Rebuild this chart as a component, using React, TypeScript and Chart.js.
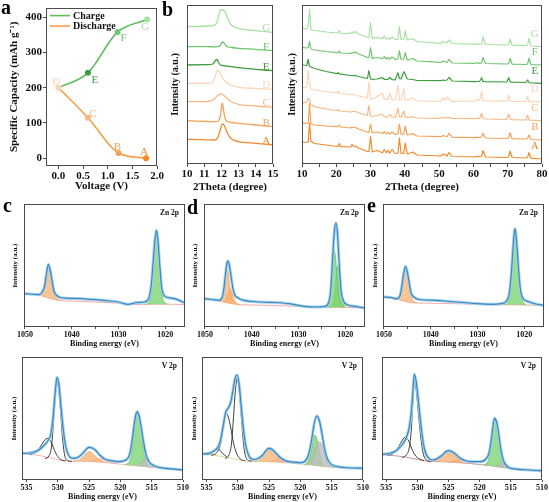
import React, { useEffect, useRef } from "react";
import { Chart, registerables } from "chart.js";

Chart.register(...registerables);

const SERIF = "'Liberation Serif', 'Times New Roman', serif";

/* ---------------- (a) capacity vs voltage ---------------- */
const chargeVoltage = [0, 0.6, 1.2, 1.8];
const chargeCapacity = [200, 242, 358, 393];
const chargePointNames = ["", "E", "F", "G"];
const dischargeVoltage = [0, 0.6, 1.22, 1.78];
const dischargeCapacity = [200, 115, 15, 0];
const dischargePointNames = ["D", "C", "B", "A"];
const voltageTicks = [0, 0.5, 1.0, 1.5, 2.0];
const capacityTicks = [0, 100, 200, 300, 400];

/* ---------------- (b) XRD, stacked (values include stacking offset) ---------------- */
const sampleNames = ["A", "B", "C", "D", "E", "F", "G"];
const thetaZoomTicks = [10, 11, 12, 13, 14, 15];
const thetaWideTicks = [10, 15, 20, 25, 30, 35, 40, 45, 50, 55, 60, 65, 70, 75, 80];
const thetaWideLabels = [10, 20, 30, 40, 50, 60, 70, 80];

const twoThetaZoom = [10, 11.2, 11.5, 11.65, 11.75, 11.85, 11.95, 12.05, 12.15, 12.25, 12.4, 12.6, 13, 14, 15];
const zoomA = [25.7, 25.2, 25, 25.2, 26.5, 30, 36, 41, 40, 36, 30, 26, 23.3, 21.7, 20];
const zoomB = [44.3, 43.5, 43.3, 43.3, 43.5, 44.5, 50, 62, 52, 45, 43.2, 42.5, 41.7, 40, 38.3];
const zoomC = [63.3, 63.5, 65, 67, 69, 70.5, 71, 70.5, 69.5, 68, 65.5, 63, 60.7, 59, 57.7];
const zoomD = [81.7, 81.7, 83, 89, 94.5, 94, 91, 88, 85, 83, 81, 79.5, 77.7, 76.7, 75.7];
const zoomE = [100, 100.3, 101, 104.5, 105.5, 102, 100, 99.5, 99.3, 99, 98.7, 98.3, 97.3, 95.7, 94.3];
const zoomF = [118.3, 118.3, 118.2, 118.2, 118.3, 118.7, 120, 123, 122, 119.5, 118, 117.5, 116.7, 115.7, 114.3];
const zoomG = [138.3, 139, 139.5, 140.5, 143, 150, 155, 155, 154.5, 152, 145, 139.5, 136.7, 134.3, 132.7];

const twoThetaWide = [10, 11.4, 11.8, 12.2, 12.6, 13.7, 17, 20.3, 20.6, 20.9, 21.3, 24.2, 24.6, 25.0, 25.6, 26.5, 29.1, 29.5, 30.0, 30.5, 31.8, 33.5, 34.0, 34.6, 35.0, 35.6, 36.3, 37.2, 38.0, 38.4, 38.9, 39.7, 40.1, 40.7, 42.4, 43.5, 50.5, 51.2, 51.6, 52.3, 52.9, 53.8, 60.5, 61.0, 61.8, 62.4, 62.8, 63.5, 69.7, 70.3, 70.7, 71.3, 75.3, 75.8, 76.2, 76.8, 80];
const wideA = [21, 20.5, 21, 40, 21.5, 19.5, 18, 16.5, 17, 19.5, 16.3, 16, 18.5, 16.5, 17, 15, 11.5, 11.5, 26.5, 11, 12.5, 10.3, 13.5, 10.3, 12.5, 10, 13.5, 9.5, 10, 25, 9.5, 9.8, 20, 9, 11, 8, 7, 9, 8.5, 7, 10.5, 6.5, 6, 6.8, 6, 7, 12.5, 6, 5.5, 6.5, 12, 5.5, 5, 5.8, 10.5, 4.8, 4];
const wideB = [40.3, 39.5, 40, 59.5, 39, 38, 37, 36.3, 36.5, 38, 36, 35, 36, 35.5, 35.5, 34, 31, 30.5, 39, 30, 31, 29.5, 31.5, 29.3, 30.5, 29, 31, 28.5, 29, 39, 28.5, 29, 37, 28, 29.5, 27, 26.3, 27.5, 27, 26.3, 29.7, 25.8, 25.3, 25.8, 25.3, 26, 29.7, 25, 24.5, 25.5, 30.3, 24.3, 24, 24.8, 28, 23.5, 23];
const wideC = [59.7, 61, 65, 63, 58.5, 56.3, 54, 52.5, 53.5, 52.3, 52, 51, 51.5, 51.5, 51.5, 50, 47.5, 57.7, 47, 46.5, 47.5, 49, 46.3, 46, 46, 48.7, 46, 45.7, 54.7, 46, 45.8, 52, 46, 45.5, 46.3, 45, 44.7, 45.7, 45, 45.7, 45.5, 44.5, 44.3, 45, 44.3, 49.7, 44.5, 44, 43.5, 49, 43.8, 43.3, 43, 48, 43, 42.8, 42.3];
const wideD = [74.7, 76, 92, 80, 74, 73, 71.5, 70, 72.3, 69.7, 69.5, 68.5, 68.7, 68.3, 68, 67, 65, 80.3, 64, 63.7, 66.3, 69.7, 63.5, 63.3, 63.3, 69.7, 63.2, 63, 78, 63, 63, 74.7, 63, 62.5, 65.3, 62, 61.5, 65.3, 62.5, 66.3, 64, 61.5, 62, 63.7, 62.5, 71.3, 62.3, 62, 61.8, 68, 62, 61.5, 61.5, 67, 61.5, 61.3, 61.3];
const wideE = [98, 97.5, 103.7, 96.5, 96, 94.5, 91.5, 89.3, 90.5, 89, 88.8, 87.5, 87.5, 87.3, 87.5, 86.5, 84.5, 92.3, 84, 83.7, 84, 85.3, 83.7, 83.5, 83.5, 85.5, 83.3, 83.2, 90.3, 84.5, 84, 91.3, 89, 84, 83.5, 82.5, 82.3, 83, 82.5, 83, 85.7, 82, 81.3, 81.5, 81.5, 85.3, 81.5, 81.3, 81, 85.3, 81.2, 80.8, 80.5, 83, 80.5, 80.2, 79.7];
const wideF = [115.7, 115, 115.5, 121.3, 114, 113, 111.5, 110.3, 110.5, 112, 110, 109.5, 110.5, 110, 111, 109, 105.5, 105.3, 115.3, 104.7, 105.5, 104.3, 106.5, 104, 105.5, 103.8, 106, 103.5, 104, 112.3, 103.5, 104, 110.3, 103, 104.5, 102, 100.7, 102, 101.5, 100.5, 103.7, 100, 99.7, 100.3, 99.7, 100, 105.7, 99.5, 99, 99.5, 104.7, 98.8, 98.5, 99, 104.7, 98.3, 98];
const wideG = [134.7, 134, 136, 153.7, 133, 132.5, 131, 130, 130.5, 132.3, 129.7, 129.5, 131.3, 130, 131.5, 129, 125.5, 125.3, 140.3, 124.7, 125.5, 124.3, 127, 124, 125, 123.8, 126, 123.5, 124, 136.3, 123.5, 124, 132, 123, 124.3, 121.5, 119.7, 121.5, 121, 120, 123, 119.5, 118.7, 119.3, 118.7, 119, 126.3, 118.5, 118, 118.5, 124, 117.8, 117.3, 118, 124.7, 117, 116.3];

/* ---------------- (c-e) XPS, [binding energy, intensity] ---------------- */
const znTicks = [1050, 1045, 1040, 1035, 1030, 1025, 1020];
const znLabels = [1050, 1040, 1030, 1020];
const vTicks = [535, 530, 525, 520, 515, 510];

const cZnExp = [[1050.2, 33.3], [1049, 33], [1048, 32.7], [1047, 32.3], [1046.3, 35], [1045.8, 41], [1045.4, 53], [1045.0, 62.7], [1044.6, 57], [1044.2, 46], [1043.8, 36], [1043.2, 31.5], [1042.5, 29.5], [1041, 28.8], [1038, 28.3], [1035, 27.3], [1032, 26], [1030, 25], [1028, 22.7], [1026, 24.5], [1024.5, 25], [1023.6, 28], [1023.0, 42], [1022.6, 65], [1022.2, 88], [1021.9, 96.7], [1021.6, 88], [1021.2, 62], [1020.8, 40], [1020.3, 31.7], [1019.5, 29.5], [1018, 28.3], [1016.5, 25.5], [1015.8, 24]];
const cZnBg = [[1050.2, 33.3], [1047.3, 32.3], [1045, 29], [1043, 26.8], [1040, 26], [1035, 25], [1030, 23.8], [1027, 22.5], [1023, 22.8], [1019, 22.8], [1015.8, 22.5]];
const cZnOrange = [[1048.0, 32.6], [1047.0, 33.5], [1046.3, 36], [1045.8, 42], [1045.4, 53], [1045.0, 61.5], [1044.6, 55], [1044.2, 44], [1043.8, 34], [1043.3, 29], [1042.6, 27]];
const cZnGreen = [[1024.2, 22.8], [1023.4, 25], [1023.0, 38], [1022.6, 62], [1022.2, 87], [1021.9, 95.5], [1021.6, 87], [1021.2, 60], [1020.8, 37], [1020.4, 26], [1019.6, 23]];

const dZnExp = [[1050.2, 28.3], [1048.5, 27.5], [1047, 26.7], [1046.3, 30], [1045.9, 40], [1045.5, 57], [1045.2, 66], [1044.8, 62], [1044.4, 50], [1044.0, 38], [1043.5, 31], [1043, 29.3], [1042, 27], [1038, 25], [1035, 24.5], [1032, 23.3], [1029, 20.7], [1026, 20], [1024.5, 20.5], [1023.6, 24], [1023.1, 38], [1022.7, 70], [1022.3, 98], [1022.0, 104], [1021.7, 95], [1021.3, 62], [1020.9, 36], [1020.4, 26], [1019.5, 22], [1018, 20.7], [1016.5, 19.5], [1015.8, 19]];
const dZnBg = [[1050.2, 28.3], [1047.3, 26.5], [1045, 24], [1043, 22.5], [1040, 22], [1035, 21.5], [1030, 20.7], [1026, 19.7], [1022, 19.7], [1018, 19.3], [1015.8, 19]];
const dZnOrange1 = [[1047.0, 26.5], [1046.4, 29], [1046.0, 37], [1045.6, 50], [1045.3, 58], [1045.0, 53], [1044.7, 40], [1044.3, 29], [1043.8, 24.5], [1043.2, 22.8]];
const dZnOrange2 = [[1046.0, 25], [1045.5, 28], [1045.0, 34], [1044.6, 38], [1044.2, 34], [1043.8, 28], [1043.3, 24], [1042.6, 22.5]];
const dZnGreen1 = [[1024.3, 20], [1023.6, 23], [1023.2, 35], [1022.9, 55], [1022.6, 72], [1022.4, 76.7], [1022.1, 70], [1021.8, 52], [1021.4, 32], [1021.0, 23], [1020.3, 20]];
const dZnGreen2 = [[1023.2, 20], [1022.6, 24], [1022.2, 37], [1021.9, 52], [1021.6, 60.7], [1021.3, 52], [1021.0, 36], [1020.6, 25], [1020.0, 20.5]];

const eZnExp = [[1050.2, 30], [1048.5, 29.5], [1047.3, 28.3], [1046.6, 31], [1046.2, 40], [1045.8, 53], [1045.4, 60.7], [1045.0, 55], [1044.6, 44], [1044.2, 34], [1043.6, 30], [1042.5, 27.5], [1039, 26.7], [1036, 25.5], [1033, 24.5], [1030, 23.3], [1027, 22.7], [1025, 23.3], [1023.8, 26], [1023.2, 34], [1022.8, 52], [1022.4, 80], [1022.0, 98.3], [1021.6, 82], [1021.2, 55], [1020.8, 36], [1020.2, 28], [1019.2, 25.5], [1017.5, 23], [1015.8, 21.7]];
const eZnBg = [[1050.2, 30], [1047.5, 28], [1045, 25], [1043, 24], [1040, 23.8], [1035, 23.3], [1030, 22.8], [1025, 22.3], [1020, 22], [1015.8, 21.5]];
const eZnOrange = [[1047.8, 28.2], [1047.0, 29], [1046.5, 32], [1046.1, 39], [1045.8, 50], [1045.4, 59], [1045.0, 53], [1044.6, 41], [1044.2, 31], [1043.7, 26], [1043, 24]];
const eZnGreen = [[1024.2, 22.4], [1023.4, 26], [1023.0, 37], [1022.6, 62], [1022.3, 86], [1022.0, 97], [1021.7, 86], [1021.3, 60], [1020.9, 37], [1020.5, 27], [1019.7, 22.5]];

const cVExp = [[535.7, 26.7], [534.5, 27], [533.5, 28.5], [532.8, 31], [532.2, 34.5], [531.6, 39], [531.1, 46], [530.7, 65], [530.4, 88], [530.1, 102.7], [529.8, 95], [529.5, 75], [529.1, 50], [528.7, 33], [528.2, 24], [527.5, 21.7], [526.8, 22.5], [526, 26.7], [525.4, 31], [525, 32.7], [524.5, 32], [524, 30], [523.3, 25], [522.5, 21], [521.5, 19.3], [520.3, 18.3], [519.3, 19.5], [518.6, 24], [518.2, 36], [517.8, 55], [517.5, 66], [517.3, 68.3], [517, 64], [516.7, 54], [516.3, 38], [515.9, 25], [515.4, 18], [514.7, 14.5], [513.5, 12.3], [512, 11.2], [510, 10]];
const cVBg = [[535.7, 26.5], [534, 25.5], [532.5, 24], [531, 22], [529.5, 19.5], [528.5, 18.8], [526, 18.7], [524, 18.3], [522, 17.3], [520, 15.8], [518, 14.5], [516, 13.3], [514, 12], [512, 11], [510, 10]];
const cVBlack1 = [[532.0, 21.5], [531.4, 24], [531.0, 33], [530.7, 55], [530.4, 82], [530.1, 98.3], [529.8, 88], [529.5, 65], [529.2, 40], [528.9, 25], [528.4, 19.5], [527.8, 18.6]];
const cVBlack2 = [[534.5, 25.5], [533.7, 27], [533.0, 31], [532.4, 37], [531.7, 41.7], [531.1, 38.5], [530.6, 31], [530.1, 24.5], [529.5, 20.5], [528.8, 19.2]];
const cVOrange = [[527.5, 18.8], [526.6, 20], [526.0, 23], [525.5, 26.5], [525.0, 28.3], [524.5, 27], [524.0, 24], [523.4, 20.5], [522.8, 17.8]];
const cVPink = [[525.0, 18.6], [524.2, 19.5], [523.4, 21], [522.8, 21.2], [522.2, 20], [521.5, 18], [520.8, 16.3]];
const cVGreen = [[519.2, 15.4], [518.5, 19], [518.1, 30], [517.8, 48], [517.5, 62], [517.3, 66.7], [517.0, 62], [516.7, 50], [516.4, 33], [516.0, 20], [515.5, 13.2]];
const cVGray = [[517.2, 14.3], [516.6, 18], [516.1, 21.7], [515.6, 20], [515.1, 16], [514.5, 12.5]];

const dVExp = [[535.7, 26], [534.5, 26.7], [533.8, 29], [533.3, 31.7], [532.8, 38], [532.3, 55], [531.9, 68], [531.5, 72], [531.1, 78], [530.7, 92], [530.4, 102], [530.1, 105], [529.8, 97], [529.5, 78], [529.1, 52], [528.7, 34], [528.2, 24], [527.5, 20.5], [526.8, 21.5], [526, 25], [525.4, 30], [525, 31.7], [524.5, 30.5], [524, 27.5], [523.3, 23], [522.5, 19.5], [521, 17.8], [520, 17.3], [519.2, 19], [518.7, 25], [518.2, 40], [517.8, 56], [517.4, 64], [517.0, 60], [516.6, 48], [516.2, 33.3], [515.8, 23], [515.3, 17], [514.5, 14], [513, 12.5], [510, 11.7]];
const dVBg = [[535.7, 26], [534, 25], [532.5, 23.5], [531, 21.5], [529.5, 19.8], [528, 18.8], [526, 18.5], [524, 18], [522, 17], [520, 16], [518, 14.8], [516, 13.3], [514, 12.2], [512, 11.8], [510, 11.7]];
const dVBlack1 = [[532.0, 21.5], [531.4, 25], [531.0, 36], [530.7, 60], [530.4, 87], [530.1, 101.7], [529.8, 92], [529.5, 70], [529.2, 45], [528.9, 28], [528.4, 20], [527.8, 18.8]];
const dVBlack2 = [[534.2, 24.8], [533.4, 27], [532.8, 35], [532.4, 50], [532.1, 62], [531.8, 66.7], [531.5, 63], [531.1, 52], [530.7, 38], [530.2, 27], [529.6, 21], [528.9, 19.3]];
const dVBlack3 = [[534.8, 25.5], [534.2, 27], [533.7, 30], [533.3, 31.7], [532.9, 30], [532.4, 26.5], [531.8, 23.5]];
const dVOrange = [[527.5, 18.7], [526.6, 20], [526.0, 23.5], [525.5, 28], [525.0, 30], [524.5, 28.5], [524.0, 25], [523.4, 21], [522.8, 17.5]];
const dVPink = [[525.0, 18.4], [524.2, 19.5], [523.4, 21.5], [522.8, 21.5], [522.2, 20], [521.5, 18], [520.8, 16.4]];
const dVGreen = [[519.3, 15.6], [518.7, 19], [518.3, 28], [518.0, 38], [517.7, 45], [517.4, 42], [517.1, 33], [516.7, 22], [516.3, 13.8]];
const dVGray = [[519.0, 15.4], [518.3, 19], [517.8, 27], [517.4, 35], [517.0, 38.3], [516.6, 35], [516.2, 27], [515.8, 19], [515.3, 14.5], [514.6, 12.6]];

const eVExp = [[535.7, 25.7], [534.5, 26.5], [533.5, 29], [532.8, 33], [532.2, 37.5], [531.7, 44], [531.3, 53.3], [531.0, 68], [530.8, 83], [530.5, 105.7], [530.2, 98], [529.9, 82], [529.5, 58], [529.1, 38], [528.7, 27], [528.2, 21.7], [527.5, 20], [526.8, 21.5], [526, 25], [525.4, 28.5], [525, 29.3], [524.5, 28.5], [524, 26.5], [523.3, 22.5], [522.3, 19.3], [521, 18.3], [519.8, 18.3], [519.0, 21], [518.5, 27], [518.1, 42], [517.8, 57], [517.6, 61.7], [517.3, 58], [517.0, 48], [516.6, 30], [516.1, 18], [515.5, 13], [514.5, 11.2], [512, 10], [510, 9.3]];
const eVBg = [[535.7, 25.5], [534, 24.5], [532, 23], [530, 20.5], [528.5, 18.8], [526, 18.3], [524, 17.6], [522, 16.7], [520, 15.5], [518, 14], [516, 12.3], [514, 11], [512, 10], [510, 9.3]];
const eVBlack1 = [[532.4, 22.5], [531.8, 25], [531.3, 33], [531.0, 50], [530.8, 72], [530.5, 98.3], [530.2, 90], [529.9, 70], [529.5, 44], [529.1, 27], [528.6, 20], [528.0, 18.6]];
const eVBlack2 = [[534.8, 24.8], [534.0, 26], [533.3, 30.5], [532.6, 38], [532.0, 42.7], [531.4, 39], [530.9, 31], [530.4, 25], [529.8, 21.5], [529.0, 19.5]];
const eVOrange = [[527.5, 18.6], [526.6, 20], [526.0, 23], [525.5, 26.5], [525.0, 28.3], [524.5, 27], [524.0, 24], [523.4, 20.5], [522.8, 17.1]];
const eVPink = [[525.0, 18.0], [524.2, 19], [523.4, 20.5], [522.8, 20.5], [522.2, 19.2], [521.5, 17.5], [520.8, 16]];
const eVGreen = [[519.3, 15], [518.7, 18.5], [518.3, 28], [518.0, 43], [517.8, 54], [517.6, 60.7], [517.3, 55], [517.0, 43], [516.7, 28], [516.3, 17], [515.8, 12.2]];
const eVGray = [[517.3, 13.2], [516.8, 16], [516.3, 18.3], [515.8, 17], [515.3, 13.5], [514.8, 11.4]];

/* ---------------- styles ---------------- */
const sampleColors = ["#f08a2a", "#f4a256", "#f7b885", "#fbd4b6", "#3f9c3f", "#70c570", "#a8e0a2"];
const compStyles: Record<string, any> = {
  orange: { line: "#f3a263", fill: "rgba(248,176,112,0.75)", w: 0.8 },
  green: { line: "#62c25a", fill: "rgba(128,212,118,0.8)", w: 0.8 },
  gray: { line: "#a8a8a8", fill: "rgba(190,190,190,0.8)", w: 0.8 },
  pink: { line: "#f0a0a0", fill: "rgba(244,170,165,0.55)", w: 0.8 },
  black: { line: "#2b2b2b", fill: null, w: 0.9 },
};

type Frame = { cl: number; ct: number; cw: number; ch: number; bl: number; bt: number; br: number; bb: number };

const frameA: Frame = { cl: 0, ct: 0, cw: 166, ch: 196, bl: 46, bt: 5, br: 157, bb: 166 };
const frameB1: Frame = { cl: 150, ct: 0, cw: 132, ch: 196, bl: 187, bt: 5, br: 273, bb: 164 };
const frameB2: Frame = { cl: 280, ct: 0, cw: 269, ch: 196, bl: 302, bt: 5, br: 542, bb: 164 };
const frameCZn: Frame = { cl: 0, ct: 196, cw: 190, ch: 156, bl: 24, bt: 204, br: 185, bb: 327 };
const frameCV: Frame = { cl: 0, ct: 352, cw: 190, ch: 150, bl: 22, bt: 357, br: 183, bb: 480 };
const frameDZn: Frame = { cl: 186, ct: 196, cw: 184, ch: 156, bl: 204, bt: 204, br: 365, bb: 327 };
const frameDV: Frame = { cl: 186, ct: 352, cw: 184, ch: 150, bl: 202, bt: 357, br: 363, bb: 480 };
const frameEZn: Frame = { cl: 368, ct: 196, cw: 181, ch: 156, bl: 383, bt: 204, br: 544, bb: 327 };
const frameEV: Frame = { cl: 368, ct: 352, cw: 181, ch: 150, bl: 382, bt: 357, br: 543, bb: 480 };

/* ---------------- helpers ---------------- */
const zipPts = (xs: number[], ys: number[]) => xs.map((x, i) => ({ x, y: ys[i] }));
// XPS axes are reversed: order by descending energy so pixels run left to right
const xpsPts = (pairs: number[][]) => pairs.map(([x, y]) => ({ x, y })).sort((a, b) => b.x - a.x);

const framePlugin = {
  id: "frameBox",
  afterDraw(chart: any) {
    const { ctx, chartArea: a } = chart;
    ctx.save();
    ctx.strokeStyle = "#4a4a4a";
    ctx.lineWidth = 1;
    ctx.strokeRect(Math.round(a.left) + 0.5, Math.round(a.top) + 0.5, Math.round(a.right - a.left) - 1, Math.round(a.bottom - a.top) - 1);
    ctx.restore();
  },
};

function overlayPlugin(draw?: (chart: any, ctx: CanvasRenderingContext2D) => void) {
  return {
    id: "overlayText",
    afterDatasetsDraw(chart: any) {
      if (!draw) return;
      const ctx = chart.ctx;
      ctx.save();
      draw(chart, ctx);
      ctx.restore();
    },
  };
}

function axis(o: {
  min: number; max: number; ticks: number[]; labels?: number[]; fmt?: (v: number) => string;
  reverse?: boolean; tickFont?: number; show?: boolean; title?: string; titleFont?: number;
  titlePad?: any; tickLen?: number;
}) {
  const labels = o.labels ?? o.ticks;
  const show = o.show !== false;
  return {
    type: "linear",
    min: o.min,
    max: o.max,
    reverse: !!o.reverse,
    afterBuildTicks: (s: any) => { s.ticks = o.ticks.map((v) => ({ value: v })); },
    ticks: {
      display: show,
      autoSkip: false,
      maxRotation: 0,
      minRotation: 0,
      padding: 1,
      color: "#111",
      font: { family: SERIF, size: o.tickFont ?? 11, weight: "bold" },
      callback: (v: number) => (labels.some((l) => Math.abs(l - v) < 1e-9) ? (o.fmt ? o.fmt(v) : String(v)) : ""),
    },
    grid: { display: show, drawOnChartArea: false, drawTicks: true, tickLength: o.tickLen ?? 3, color: "#4a4a4a", tickColor: "#4a4a4a" },
    border: { display: false },
    title: o.title
      ? { display: true, text: o.title, color: "#111", font: { family: SERIF, size: o.titleFont ?? 11, weight: "bold", lineHeight: 1.2 }, padding: o.titlePad ?? 0 }
      : { display: false },
  };
}

function makeConfig(f: Frame, datasets: any[], x: any, y: any, draw?: (chart: any, ctx: CanvasRenderingContext2D) => void) {
  return {
    type: "line",
    data: { datasets },
    options: {
      responsive: false,
      animation: false,
      events: [],
      layout: { padding: { left: 0, top: f.bt - f.ct, right: f.cl + f.cw - f.br, bottom: 0 } },
      plugins: { legend: { display: false }, tooltip: { enabled: false }, title: { display: false } },
      elements: { point: { radius: 0 }, line: { borderJoinStyle: "round", borderCapStyle: "round" } },
      scales: {
        x: { ...x, afterFit: (s: any) => { s.height = f.ct + f.ch - f.bb; } },
        y: { ...y, afterFit: (s: any) => { s.width = f.bl - f.cl; } },
      },
    },
    plugins: [framePlugin, overlayPlugin(draw)],
  };
}

function ChartCanvas({ f, build }: { f: Frame; build: () => any }) {
  const ref = useRef<HTMLCanvasElement | null>(null);
  useEffect(() => {
    if (!ref.current) return;
    const chart = new Chart(ref.current, build());
    return () => chart.destroy();
  }, []);
  return (
    <canvas
      ref={ref}
      width={f.cw}
      height={f.ch}
      style={{ position: "absolute", left: f.cl, top: f.ct, width: f.cw, height: f.ch, display: "block" }}
    />
  );
}

/* ---------------- panel builders ---------------- */
function buildA() {
  const dischargeColors = [sampleColors[3], sampleColors[2], sampleColors[1], sampleColors[0]];
  const chargeColors = ["rgba(0,0,0,0)", sampleColors[4], sampleColors[5], sampleColors[6]];
  const datasets = [
    {
      data: zipPts(dischargeVoltage, dischargeCapacity),
      borderColor: "#f5a04a",
      borderWidth: 1.6,
      cubicInterpolationMode: "monotone",
      pointRadius: 3,
      pointBorderWidth: 0,
      pointBackgroundColor: dischargeColors,
      order: 0,
    },
    {
      data: zipPts(chargeVoltage, chargeCapacity),
      borderColor: "#5cbc5c",
      borderWidth: 1.6,
      cubicInterpolationMode: "monotone",
      pointRadius: [0, 3, 3, 3],
      pointBorderWidth: 0,
      pointBackgroundColor: chargeColors,
      order: 1,
    },
  ];
  const labelOffsets: Record<string, [number, number]> = {
    D: [-2, -6], C: [5, -4], B: [-1, -6], A: [-2, -6], E: [7, 7], F: [6, 6], G: [-2, 8],
  };
  const draw = (chart: any, ctx: CanvasRenderingContext2D) => {
    const xs = chart.scales.x, ys = chart.scales.y, a = chart.chartArea;
    ctx.font = `11px ${SERIF}`;
    ctx.textAlign = "center";
    ctx.textBaseline = "middle";
    const put = (vx: number[], vy: number[], names: string[], colors: string[]) => {
      names.forEach((n, i) => {
        if (!n) return;
        const [dx, dy] = labelOffsets[n];
        ctx.fillStyle = colors[i];
        ctx.fillText(n, xs.getPixelForValue(vx[i]) + dx, ys.getPixelForValue(vy[i]) + dy);
      });
    };
    put(dischargeVoltage, dischargeCapacity, dischargePointNames, dischargeColors);
    put(chargeVoltage, chargeCapacity, chargePointNames, chargeColors);
    // legend
    const items = [["Charge", "#5cbc5c"], ["Discharge", "#f5a04a"]];
    ctx.font = `bold 10px ${SERIF}`;
    ctx.textAlign = "left";
    items.forEach(([t, c], i) => {
      const yy = a.top + 8 + i * 10.5;
      ctx.strokeStyle = c;
      ctx.lineWidth = 1.6;
      ctx.beginPath();
      ctx.moveTo(a.left + 4, yy);
      ctx.lineTo(a.left + 24, yy);
      ctx.stroke();
      ctx.fillStyle = "#111";
      ctx.fillText(t, a.left + 27, yy + 0.5);
    });
  };
  return makeConfig(
    frameA,
    datasets,
    axis({ min: -0.25, max: 2.0, ticks: voltageTicks, fmt: (v) => v.toFixed(1), title: "Voltage (V)", titlePad: { top: 0, bottom: 3.4 } }),
    axis({ min: -22, max: 427, ticks: capacityTicks, title: "Specific Capacity (mAh g\u207B\u00B9)", titleFont: 11, titlePad: { top: 7.4, bottom: 0 } }),
    draw,
  );
}

function buildXrd(f: Frame, xs: number[], series: number[][], opts: any) {
  const datasets = series.map((ys, i) => ({
    data: zipPts(xs, ys),
    borderColor: sampleColors[i],
    borderWidth: opts.width,
    tension: 0,
    cubicInterpolationMode: opts.smooth ? "monotone" : "default",
  }));
  const draw = (chart: any, ctx: CanvasRenderingContext2D) => {
    const sx = chart.scales.x, sy = chart.scales.y;
    ctx.font = `11px ${SERIF}`;
    ctx.textAlign = "center";
    ctx.textBaseline = "middle";
    series.forEach((ys, i) => {
      ctx.fillStyle = sampleColors[i];
      ctx.fillText(sampleNames[i], sx.getPixelForValue(opts.labelX), sy.getPixelForValue(ys[ys.length - 1] + opts.labelLift));
    });
  };
  return makeConfig(
    f,
    datasets,
    axis({ min: xs[0], max: xs[xs.length - 1], ticks: opts.ticks, labels: opts.labels, title: "2Theta (degree)", titlePad: { top: 0, bottom: 2.4 } }),
    axis({ min: opts.yMin, max: opts.yMax, ticks: [opts.yMin], show: false, title: "Intensity (a.u.)", titleFont: 10, titlePad: { top: opts.yTitlePad, bottom: 0 } }),
    draw,
  );
}

type Comp = { pts: number[][]; kind: string };
function buildXps(f: Frame, p: {
  exp: number[][]; bg: number[][]; bgColor: string; comps: Comp[]; label: string;
  min: number; max: number; ticks: number[]; labels: number[]; yPad: number; xPad: number;
}) {
  const datasets: any[] = [
    { data: xpsPts(p.exp), borderColor: "#3b8bc2", borderWidth: 1.2, cubicInterpolationMode: "monotone", order: 0 },
    { data: xpsPts(p.exp), borderColor: "rgba(165,208,236,0.95)", borderWidth: 3, cubicInterpolationMode: "monotone", order: 1 },
    { data: xpsPts(p.bg), borderColor: p.bgColor, borderWidth: 1, cubicInterpolationMode: "monotone", order: 9 },
  ];
  p.comps.forEach((c) => {
    const st = compStyles[c.kind];
    datasets.push({
      data: xpsPts(c.pts),
      borderColor: st.line,
      borderWidth: st.w,
      backgroundColor: st.fill ?? "rgba(0,0,0,0)",
      fill: st.fill ? 2 : false,
      cubicInterpolationMode: "monotone",
      order: st.fill ? 5 : 3,
    });
  });
  const draw = (chart: any, ctx: CanvasRenderingContext2D) => {
    const a = chart.chartArea;
    ctx.font = `bold 7.5px ${SERIF}`;
    ctx.fillStyle = "#111";
    ctx.textAlign = "right";
    ctx.textBaseline = "middle";
    ctx.fillText(p.label, a.right - 6, a.top + 9);
  };
  return makeConfig(
    f,
    datasets,
    axis({ min: p.min, max: p.max, reverse: true, ticks: p.ticks, labels: p.labels, tickFont: 8, tickLen: 2, title: "Binding energy (eV)", titleFont: 8, titlePad: { top: 0, bottom: p.xPad } }),
    axis({ min: 0, max: 123, ticks: [0], show: false, title: "Intensity (a.u.)", titleFont: 7, titlePad: { top: p.yPad, bottom: 0 } }),
    draw,
  );
}

const znAxis = { min: 1015.8, max: 1050.2, ticks: znTicks, labels: znLabels };
const vAxis = { min: 510, max: 535.7, ticks: vTicks, labels: vTicks };

function PanelLetter({ text, x, baseline }: { text: string; x: number; baseline: number }) {
  return (
    <div style={{ position: "absolute", left: x, top: baseline - 16.75, font: `bold 20px ${SERIF}`, lineHeight: "20px", color: "#000" }}>
      {text}
    </div>
  );
}

export default function App() {
  return (
    <div style={{ position: "absolute", left: 0, top: 0, width: 549, height: 502, background: "#fff", overflow: "hidden" }}>
      <ChartCanvas f={frameA} build={buildA} />
      <ChartCanvas
        f={frameB1}
        build={() => buildXrd(frameB1, twoThetaZoom, [zoomA, zoomB, zoomC, zoomD, zoomE, zoomF, zoomG], {
          width: 1.3, smooth: true, ticks: thetaZoomTicks, labels: thetaZoomTicks, yMin: 1, yMax: 160, yTitlePad: 19, labelX: 14.6, labelLift: 4,
        })}
      />
      <ChartCanvas
        f={frameB2}
        build={() => buildXrd(frameB2, twoThetaWide, [wideA, wideB, wideC, wideD, wideE, wideF, wideG], {
          width: 1.2, smooth: false, ticks: thetaWideTicks, labels: thetaWideLabels, yMin: -1, yMax: 158, yTitlePad: 6, labelX: 77.9, labelLift: 12.5,
        })}
      />
      <ChartCanvas f={frameCZn} build={() => buildXps(frameCZn, { ...znAxis, exp: cZnExp, bg: cZnBg, bgColor: "#f3aaa6", label: "Zn 2p", yPad: 10.8, xPad: 3.7,
        comps: [{ pts: cZnOrange, kind: "orange" }, { pts: cZnGreen, kind: "green" }] })} />
      <ChartCanvas f={frameDZn} build={() => buildXps(frameDZn, { ...znAxis, exp: dZnExp, bg: dZnBg, bgColor: "#f3aaa6", label: "Zn 2p", yPad: 4.8, xPad: 3.7,
        comps: [{ pts: dZnOrange1, kind: "orange" }, { pts: dZnOrange2, kind: "orange" }, { pts: dZnGreen1, kind: "green" }, { pts: dZnGreen2, kind: "green" }] })} />
      <ChartCanvas f={frameEZn} build={() => buildXps(frameEZn, { ...znAxis, exp: eZnExp, bg: eZnBg, bgColor: "#f0b0a8", label: "Zn 2p", yPad: 2.8, xPad: 3.7,
        comps: [{ pts: eZnOrange, kind: "orange" }, { pts: eZnGreen, kind: "green" }] })} />
      <ChartCanvas f={frameCV} build={() => buildXps(frameCV, { ...vAxis, exp: cVExp, bg: cVBg, bgColor: "#f6b9b0", label: "V 2p", yPad: 9.8, xPad: 0.2,
        comps: [{ pts: cVOrange, kind: "orange" }, { pts: cVPink, kind: "pink" }, { pts: cVGray, kind: "gray" }, { pts: cVGreen, kind: "green" }, { pts: cVBlack1, kind: "black" }, { pts: cVBlack2, kind: "black" }] })} />
      <ChartCanvas f={frameDV} build={() => buildXps(frameDV, { ...vAxis, exp: dVExp, bg: dVBg, bgColor: "#dcd89a", label: "V 2p", yPad: 3.8, xPad: 0.2,
        comps: [{ pts: dVOrange, kind: "orange" }, { pts: dVPink, kind: "pink" }, { pts: dVGray, kind: "gray" }, { pts: dVGreen, kind: "green" }, { pts: dVBlack1, kind: "black" }, { pts: dVBlack2, kind: "black" }, { pts: dVBlack3, kind: "black" }] })} />
      <ChartCanvas f={frameEV} build={() => buildXps(frameEV, { ...vAxis, exp: eVExp, bg: eVBg, bgColor: "#c49a96", label: "V 2p", yPad: 1.8, xPad: 0.2,
        comps: [{ pts: eVOrange, kind: "orange" }, { pts: eVPink, kind: "pink" }, { pts: eVGray, kind: "gray" }, { pts: eVGreen, kind: "green" }, { pts: eVBlack1, kind: "black" }, { pts: eVBlack2, kind: "black" }] })} />
      <PanelLetter text="a" x={1} baseline={14} />
      <PanelLetter text="b" x={162} baseline={16} />
      <PanelLetter text="c" x={3} baseline={212} />
      <PanelLetter text="d" x={187} baseline={214} />
      <PanelLetter text="e" x={367} baseline={212} />
    </div>
  );
}
